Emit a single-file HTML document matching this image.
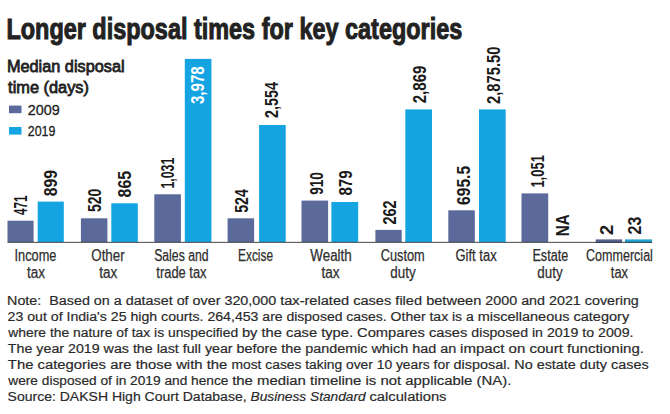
<!DOCTYPE html>
<html><head><meta charset="utf-8"><title>Longer disposal times for key categories</title>
<style>html,body{margin:0;padding:0;background:#fff}body{width:670px;height:414px;overflow:hidden}svg{display:block}text{font-family:"Liberation Sans",sans-serif;white-space:pre}</style></head><body>
<svg width="670" height="414" viewBox="0 0 670 414">
<rect width="670" height="414" fill="#ffffff"/>
<text x="6.44" y="39.20" font-size="28.6" fill="#222222" font-weight="bold" stroke="#222222" stroke-width="1.0" textLength="455.81" lengthAdjust="spacingAndGlyphs">Longer disposal times for key categories</text>
<text x="6.97" y="71.60" font-size="17.1" fill="#222222" stroke="#222222" stroke-width="0.8" textLength="117.58" lengthAdjust="spacingAndGlyphs">Median disposal</text>
<text x="8.11" y="92.80" font-size="17.1" fill="#222222" stroke="#222222" stroke-width="0.8" textLength="80.84" lengthAdjust="spacingAndGlyphs">time (days)</text>
<rect x="9" y="105.6" width="12.5" height="7.6" fill="#5b699b"/>
<rect x="9" y="127" width="12.5" height="7.6" fill="#14a4e2"/>
<text x="27.73" y="114.60" font-size="15.0" fill="#222222" stroke="#222222" stroke-width="0.3" textLength="31.99" lengthAdjust="spacingAndGlyphs">2009</text>
<text x="27.82" y="136.20" font-size="15.0" fill="#222222" stroke="#222222" stroke-width="0.3" textLength="27.61" lengthAdjust="spacingAndGlyphs">2019</text>
<rect x="7.5" y="220.7" width="26.1" height="21.3" fill="#5b699b"/>
<rect x="37.7" y="201.6" width="26.1" height="40.4" fill="#14a4e2"/>
<rect x="80.9" y="218.3" width="26.5" height="23.7" fill="#5b699b"/>
<rect x="111.3" y="203.3" width="26.5" height="38.7" fill="#14a4e2"/>
<rect x="154.3" y="194.3" width="26.6" height="47.7" fill="#5b699b"/>
<rect x="184.8" y="58.9" width="26.6" height="183.1" fill="#14a4e2"/>
<rect x="227.6" y="218.3" width="26.5" height="23.7" fill="#5b699b"/>
<rect x="259.1" y="125.0" width="26.6" height="117.0" fill="#14a4e2"/>
<rect x="301.5" y="200.6" width="26.6" height="41.4" fill="#5b699b"/>
<rect x="331.4" y="202.0" width="26.8" height="40.0" fill="#14a4e2"/>
<rect x="375.4" y="229.9" width="26.3" height="12.1" fill="#5b699b"/>
<rect x="405.3" y="109.4" width="26.7" height="132.6" fill="#14a4e2"/>
<rect x="448.3" y="210.3" width="26.5" height="31.7" fill="#5b699b"/>
<rect x="479.0" y="109.4" width="26.7" height="132.6" fill="#14a4e2"/>
<rect x="521.5" y="193.4" width="26.7" height="48.6" fill="#5b699b"/>
<rect x="595.7" y="239.4" width="26.4" height="3.4" fill="#55628f"/>
<rect x="625" y="239.4" width="27.1" height="3.4" fill="#22a3d0"/>
<rect x="7.5" y="241.85" width="644.6" height="1.05" fill="#303030" fill-opacity="0.85"/>
<text transform="translate(26.9,215.03) rotate(-90)" font-size="17.8" font-weight="bold" fill="#1a1a1a" textLength="19.39" lengthAdjust="spacingAndGlyphs">471</text>
<text transform="translate(57.1,196.34) rotate(-90)" font-size="17.8" font-weight="bold" fill="#1a1a1a" textLength="26.27" lengthAdjust="spacingAndGlyphs">899</text>
<text transform="translate(100.7,211.99) rotate(-90)" font-size="17.8" font-weight="bold" fill="#1a1a1a" textLength="23.34" lengthAdjust="spacingAndGlyphs">520</text>
<text transform="translate(131.0,197.45) rotate(-90)" font-size="17.8" font-weight="bold" fill="#1a1a1a" textLength="26.50" lengthAdjust="spacingAndGlyphs">865</text>
<text transform="translate(173.6,188.56) rotate(-90)" font-size="17.8" font-weight="bold" fill="#1a1a1a" textLength="30.84" lengthAdjust="spacingAndGlyphs">1,031</text>
<text transform="translate(204.0,104.04) rotate(-90)" font-size="17.8" font-weight="bold" fill="#ffffff" textLength="37.76" lengthAdjust="spacingAndGlyphs">3,978</text>
<text transform="translate(247.6,212.80) rotate(-90)" font-size="17.8" font-weight="bold" fill="#1a1a1a" textLength="23.70" lengthAdjust="spacingAndGlyphs">524</text>
<text transform="translate(278.0,117.88) rotate(-90)" font-size="17.8" font-weight="bold" fill="#1a1a1a" textLength="35.88" lengthAdjust="spacingAndGlyphs">2,554</text>
<text transform="translate(323.3,194.76) rotate(-90)" font-size="17.8" font-weight="bold" fill="#1a1a1a" textLength="22.69" lengthAdjust="spacingAndGlyphs">910</text>
<text transform="translate(352.3,195.52) rotate(-90)" font-size="17.8" font-weight="bold" fill="#1a1a1a" textLength="25.13" lengthAdjust="spacingAndGlyphs">879</text>
<text transform="translate(395.8,224.59) rotate(-90)" font-size="17.8" font-weight="bold" fill="#1a1a1a" textLength="24.26" lengthAdjust="spacingAndGlyphs">262</text>
<text transform="translate(426.0,103.31) rotate(-90)" font-size="17.8" font-weight="bold" fill="#1a1a1a" textLength="37.72" lengthAdjust="spacingAndGlyphs">2,869</text>
<text transform="translate(470.2,204.93) rotate(-90)" font-size="17.8" font-weight="bold" fill="#1a1a1a" textLength="39.08" lengthAdjust="spacingAndGlyphs">695.5</text>
<text transform="translate(500.3,104.00) rotate(-90)" font-size="17.8" font-weight="bold" fill="#1a1a1a" textLength="57.38" lengthAdjust="spacingAndGlyphs">2,875.50</text>
<text transform="translate(544.0,187.60) rotate(-90)" font-size="17.8" font-weight="bold" fill="#1a1a1a" textLength="32.49" lengthAdjust="spacingAndGlyphs">1,051</text>
<text transform="translate(569.3,236.14) rotate(-90)" font-size="17.8" font-weight="bold" fill="#1a1a1a" textLength="21.93" lengthAdjust="spacingAndGlyphs">NA</text>
<text transform="translate(612.8,235.01) rotate(-90)" font-size="17.8" font-weight="bold" fill="#1a1a1a" textLength="10.13" lengthAdjust="spacingAndGlyphs">2</text>
<text transform="translate(641.0,234.54) rotate(-90)" font-size="17.8" font-weight="bold" fill="#1a1a1a" textLength="17.88" lengthAdjust="spacingAndGlyphs">23</text>
<text x="14.57" y="261.00" font-size="15.8" fill="#2e2e2e" stroke="#2e2e2e" stroke-width="0.25" textLength="41.78" lengthAdjust="spacingAndGlyphs">Income</text>
<text x="27.03" y="278.00" font-size="15.8" fill="#2e2e2e" stroke="#2e2e2e" stroke-width="0.25" textLength="17.96" lengthAdjust="spacingAndGlyphs">tax</text>
<text x="91.31" y="261.00" font-size="15.8" fill="#2e2e2e" stroke="#2e2e2e" stroke-width="0.25" textLength="33.31" lengthAdjust="spacingAndGlyphs">Other</text>
<text x="99.33" y="278.00" font-size="15.8" fill="#2e2e2e" stroke="#2e2e2e" stroke-width="0.25" textLength="18.06" lengthAdjust="spacingAndGlyphs">tax</text>
<text x="154.16" y="261.00" font-size="15.8" fill="#2e2e2e" stroke="#2e2e2e" stroke-width="0.25" textLength="54.41" lengthAdjust="spacingAndGlyphs">Sales and</text>
<text x="156.34" y="278.00" font-size="15.8" fill="#2e2e2e" stroke="#2e2e2e" stroke-width="0.25" textLength="50.25" lengthAdjust="spacingAndGlyphs">trade tax</text>
<text x="238.10" y="261.00" font-size="15.8" fill="#2e2e2e" stroke="#2e2e2e" stroke-width="0.25" textLength="34.92" lengthAdjust="spacingAndGlyphs">Excise</text>
<text x="310.30" y="261.00" font-size="15.8" fill="#2e2e2e" stroke="#2e2e2e" stroke-width="0.25" textLength="41.44" lengthAdjust="spacingAndGlyphs">Wealth</text>
<text x="321.53" y="278.00" font-size="15.8" fill="#2e2e2e" stroke="#2e2e2e" stroke-width="0.25" textLength="18.06" lengthAdjust="spacingAndGlyphs">tax</text>
<text x="380.75" y="261.00" font-size="15.8" fill="#2e2e2e" stroke="#2e2e2e" stroke-width="0.25" textLength="44.02" lengthAdjust="spacingAndGlyphs">Custom</text>
<text x="390.29" y="278.00" font-size="15.8" fill="#2e2e2e" stroke="#2e2e2e" stroke-width="0.25" textLength="25.31" lengthAdjust="spacingAndGlyphs">duty</text>
<text x="455.52" y="261.00" font-size="15.8" fill="#2e2e2e" stroke="#2e2e2e" stroke-width="0.25" textLength="41.16" lengthAdjust="spacingAndGlyphs">Gift tax</text>
<text x="532.44" y="261.00" font-size="15.8" fill="#2e2e2e" stroke="#2e2e2e" stroke-width="0.25" textLength="35.81" lengthAdjust="spacingAndGlyphs">Estate</text>
<text x="537.29" y="278.00" font-size="15.8" fill="#2e2e2e" stroke="#2e2e2e" stroke-width="0.25" textLength="25.31" lengthAdjust="spacingAndGlyphs">duty</text>
<text x="586.07" y="261.00" font-size="15.8" fill="#2e2e2e" stroke="#2e2e2e" stroke-width="0.25" textLength="66.84" lengthAdjust="spacingAndGlyphs">Commercial</text>
<text x="610.84" y="278.00" font-size="15.8" fill="#2e2e2e" stroke="#2e2e2e" stroke-width="0.25" textLength="17.14" lengthAdjust="spacingAndGlyphs">tax</text>
<text x="7.05" y="305.30" font-size="13.7" fill="#2a2a2a" stroke="#2a2a2a" stroke-width="0.2" textLength="273.14" lengthAdjust="spacingAndGlyphs" xml:space="preserve">Note:  Based on a dataset of over 320,000 </text>
<text x="280.19" y="305.30" font-size="13.7" fill="#2a2a2a" stroke="#2a2a2a" stroke-width="0.2" textLength="205.17" lengthAdjust="spacingAndGlyphs" xml:space="preserve">tax-related cases filed between </text>
<text x="485.37" y="305.30" font-size="13.7" fill="#2a2a2a" stroke="#2a2a2a" stroke-width="0.2" textLength="153.48" lengthAdjust="spacingAndGlyphs" xml:space="preserve">2000 and 2021 covering</text>
<text x="7.58" y="321.33" font-size="13.7" fill="#2a2a2a" stroke="#2a2a2a" stroke-width="0.2" textLength="254.80" lengthAdjust="spacingAndGlyphs" xml:space="preserve">23 out of India's 25 high courts. 264,453 </text>
<text x="262.39" y="321.33" font-size="13.7" fill="#2a2a2a" stroke="#2a2a2a" stroke-width="0.2" textLength="215.29" lengthAdjust="spacingAndGlyphs" xml:space="preserve">are disposed cases. Other tax is a </text>
<text x="477.65" y="321.33" font-size="13.7" fill="#2a2a2a" stroke="#2a2a2a" stroke-width="0.2" textLength="151.50" lengthAdjust="spacingAndGlyphs" xml:space="preserve">miscellaneous category</text>
<text x="8.30" y="337.36" font-size="13.7" fill="#2a2a2a" stroke="#2a2a2a" stroke-width="0.2" textLength="233.69" lengthAdjust="spacingAndGlyphs" xml:space="preserve">where the nature of tax is unspecified </text>
<text x="241.94" y="337.36" font-size="13.7" fill="#2a2a2a" stroke="#2a2a2a" stroke-width="0.2" textLength="229.42" lengthAdjust="spacingAndGlyphs" xml:space="preserve">by the case type. Compares cases </text>
<text x="471.38" y="337.36" font-size="13.7" fill="#2a2a2a" stroke="#2a2a2a" stroke-width="0.2" textLength="162.06" lengthAdjust="spacingAndGlyphs" xml:space="preserve">disposed in 2019 to 2009.</text>
<text x="7.89" y="353.39" font-size="13.7" fill="#2a2a2a" stroke="#2a2a2a" stroke-width="0.2" textLength="228.68" lengthAdjust="spacingAndGlyphs" xml:space="preserve">The year 2019 was the last full year </text>
<text x="236.56" y="353.39" font-size="13.7" fill="#2a2a2a" stroke="#2a2a2a" stroke-width="0.2" textLength="223.60" lengthAdjust="spacingAndGlyphs" xml:space="preserve">before the pandemic which had an </text>
<text x="460.11" y="353.39" font-size="13.7" fill="#2a2a2a" stroke="#2a2a2a" stroke-width="0.2" textLength="183.81" lengthAdjust="spacingAndGlyphs" xml:space="preserve">impact on court functioning.</text>
<text x="7.88" y="369.42" font-size="13.7" fill="#2a2a2a" stroke="#2a2a2a" stroke-width="0.2" textLength="223.55" lengthAdjust="spacingAndGlyphs" xml:space="preserve">The categories are those with the </text>
<text x="231.49" y="369.42" font-size="13.7" fill="#2a2a2a" stroke="#2a2a2a" stroke-width="0.2" textLength="222.10" lengthAdjust="spacingAndGlyphs" xml:space="preserve">most cases taking over 10 years for </text>
<text x="453.58" y="369.42" font-size="13.7" fill="#2a2a2a" stroke="#2a2a2a" stroke-width="0.2" textLength="195.00" lengthAdjust="spacingAndGlyphs" xml:space="preserve">disposal. No estate duty cases</text>
<text x="8.30" y="385.45" font-size="13.7" fill="#2a2a2a" stroke="#2a2a2a" stroke-width="0.2" textLength="223.90" lengthAdjust="spacingAndGlyphs" xml:space="preserve">were disposed of in 2019 and hence </text>
<text x="232.18" y="385.45" font-size="13.7" fill="#2a2a2a" stroke="#2a2a2a" stroke-width="0.2" textLength="279.13" lengthAdjust="spacingAndGlyphs" xml:space="preserve">the median timeline is not applicable (NA).</text>
<text x="7.59" y="401.48" font-size="13.7" fill="#2a2a2a" stroke="#2a2a2a" stroke-width="0.2" textLength="242.90" lengthAdjust="spacingAndGlyphs" xml:space="preserve">Source: DAKSH High Court Database, </text>
<text x="250.50" y="401.48" font-size="13.7" fill="#2a2a2a" stroke="#2a2a2a" stroke-width="0.2" textLength="119.00" lengthAdjust="spacingAndGlyphs" xml:space="preserve" font-style="italic">Business Standard </text>
<text x="369.46" y="401.48" font-size="13.7" fill="#2a2a2a" stroke="#2a2a2a" stroke-width="0.2" textLength="77.02" lengthAdjust="spacingAndGlyphs" xml:space="preserve">calculations</text>
</svg></body></html>
